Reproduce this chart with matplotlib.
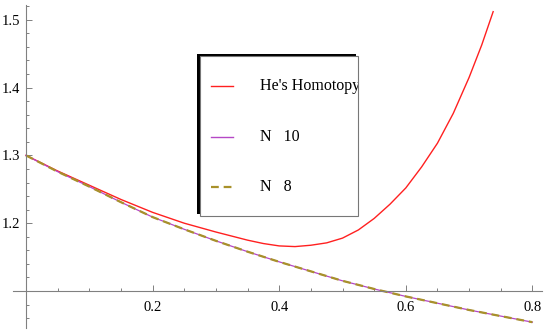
import matplotlib
matplotlib.use('Agg')
from matplotlib import pyplot as plt
from matplotlib.ticker import MultipleLocator, FixedLocator
from matplotlib.patches import Rectangle
from matplotlib.lines import Line2D

# He's homotopy solution
x_hpm = [0.0, 0.05, 0.1, 0.15, 0.2, 0.25, 0.3, 0.35, 0.375, 0.4, 0.425, 0.45, 0.475, 0.5,
         0.525, 0.55, 0.575, 0.6, 0.625, 0.65, 0.675, 0.7, 0.72, 0.738]
y_hpm = [1.3, 1.277, 1.256, 1.235, 1.216, 1.2, 1.187, 1.175, 1.170, 1.1665, 1.1655, 1.1675, 1.171, 1.178,
         1.19, 1.207, 1.228, 1.252, 1.283, 1.318, 1.362, 1.415, 1.463, 1.512]

# series solutions, N = 10 and N = 8 (they overlap)
x_n = [0.0, 0.05, 0.1, 0.15, 0.2, 0.25, 0.3, 0.35, 0.4, 0.45, 0.5,
       0.55, 0.6, 0.65, 0.7, 0.75, 0.8]
y_n10 = [1.3, 1.276, 1.254, 1.231, 1.209, 1.191, 1.174, 1.158, 1.143, 1.129, 1.115,
         1.103, 1.092, 1.082, 1.072, 1.063, 1.054]
y_n8 = [1.3, 1.276, 1.254, 1.231, 1.209, 1.191, 1.174, 1.158, 1.143, 1.129, 1.115,
        1.103, 1.092, 1.082, 1.072, 1.063, 1.054]

labels = ["He's Homotopy", "N   10", "N   8"]
x_ticks = [0.2, 0.4, 0.6, 0.8]
y_ticks = [1.2, 1.3, 1.4, 1.5]

red = '#ff2020'
magenta = '#b548c6'
olive = '#a8912a'

W, H = 550, 336
fig = plt.figure(figsize=(W / 100, H / 100), dpi=100)

# axes placed in pixels
xmin, xmax = -0.02, 0.815
ymin, ymax = 1.045, 1.522
left_px = 26 - 633 * 0.02
right_px = 26 + 633 * 0.815
top_px = 291 - 678 * (ymax - 1.1)
bot_px = 291 + 678 * (1.1 - ymin)
ax = fig.add_axes([left_px / W, (H - bot_px) / H,
                   (right_px - left_px) / W, (bot_px - top_px) / H])
ax.set_xlim(xmin, xmax)
ax.set_ylim(ymin, ymax)

ax.plot(x_hpm, y_hpm, color=red, lw=1.0, clip_on=False)
ax.plot(x_n, y_n10, color=magenta, lw=0.9)
ax.plot(x_n, y_n8, color=olive, lw=1.6, dashes=(3.5, 2.2))

# mathematica-style axes crossing at (0, 1.1)
for s in ['top', 'right']:
    ax.spines[s].set_visible(False)
ax.spines['left'].set_position(('data', 0))
ax.spines['bottom'].set_position(('data', 1.1))
for s in ['left', 'bottom']:
    ax.spines[s].set_color('#808080')
    ax.spines[s].set_linewidth(0.8)

ax.xaxis.set_major_locator(FixedLocator(x_ticks))
ax.xaxis.set_minor_locator(MultipleLocator(0.05))
ax.yaxis.set_major_locator(FixedLocator(y_ticks))
ax.yaxis.set_minor_locator(MultipleLocator(0.02))
ax.tick_params(which='both', direction='in', color='#808080', width=0.7)
ax.tick_params(which='major', length=4)
ax.tick_params(which='minor', length=2.5)
ax.tick_params(axis='x', pad=7)
ax.tick_params(axis='y', pad=4)
ax.set_xticklabels([f'{v:.1f}' for v in x_ticks])
ax.set_yticklabels([f'{v:.1f}' for v in y_ticks])
for lab in ax.get_xticklabels() + ax.get_yticklabels():
    lab.set_family('Liberation Serif')
    lab.set_fontsize(10.5)

# legend box with a dark offset edge
def fx(px):
    return px / W

def fy(py):
    return (H - py) / H

shadow = Rectangle((fx(196.7), fy(214)), fx(355.7) - fx(196.7), fy(54) - fy(214),
                   transform=fig.transFigure, facecolor='black', edgecolor='none')
box = Rectangle((fx(200), fy(216)), fx(358) - fx(200), fy(56) - fy(216),
                transform=fig.transFigure, facecolor='white', edgecolor='#777777', lw=0.8)
fig.patches.extend([shadow, box])

rows = [86, 137, 187]
styles = [dict(color=red, lw=1.0), dict(color=magenta, lw=1.0),
          dict(color=olive, lw=1.6, dashes=(3.5, 2.2))]
for row, lab, st in zip(rows, labels, styles):
    ln = Line2D([fx(210.5), fx(233)], [fy(row), fy(row)], transform=fig.transFigure, **st)
    fig.lines.append(ln)
    t = fig.text(fx(260), fy(row), lab, family='Liberation Serif', fontsize=11.5,
                 va='center', ha='left')
    t.set_clip_path(box)

fig.savefig('out.png', dpi=100)
